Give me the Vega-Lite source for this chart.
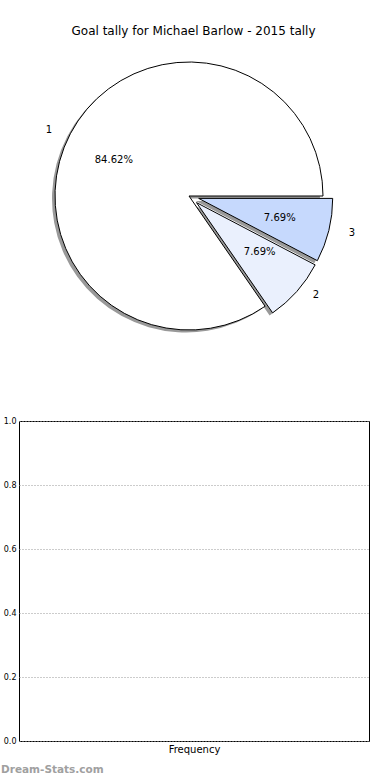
{
  "$schema": "https://vega.github.io/schema/vega-lite/v6.json",
  "padding": {"left": 0, "top": 25, "right": 0, "bottom": 0},
  "background": "white",
  "config": {"font": "DejaVu Sans", "view": {"stroke": null}, "concat": {"spacing": 74}},
  "datasets": {
    "tally": [
      {"slice": 1, "goals": 11, "pct": "84.62%"},
      {"slice": 2, "goals": 1, "pct": "7.69%"},
      {"slice": 3, "goals": 1, "pct": "7.69%"}
    ],
    "freq": []
  },
  "vconcat": [
    {
      "width": 340,
      "height": 292,
      "title": {"text": "Goal tally for Michael Barlow - 2015 tally", "fontSize": 12, "fontWeight": "normal", "font": "DejaVu Sans", "anchor": "middle", "frame": "group", "baseline": "alphabetic", "offset": 3, "dx": 4.5, "color": "#000000"},
      "data": {"name": "tally"},
      "encoding": {
        "theta": {"field": "goals", "type": "quantitative", "stack": true, "scale": {"range": [1.5708, 7.854]}},
        "order": {"field": "slice", "sort": "descending"},
        "detail": {"field": "slice", "type": "nominal"}
      },
      "layer": [
        {"mark": {"type": "arc", "radius": 134, "fill": "#999999", "xOffset": -3, "yOffset": 2.5},
         "encoding": {"opacity": {"condition": {"test": "datum.slice == 1", "value": 1}, "value": 0}}},
        {"mark": {"type": "arc", "radius": 134, "fill": "#999999", "xOffset": 4.5, "yOffset": 9.1},
         "encoding": {"opacity": {"condition": {"test": "datum.slice == 2", "value": 1}, "value": 0}}},
        {"mark": {"type": "arc", "radius": 134, "fill": "#999999", "xOffset": 6.7, "yOffset": 4.9},
         "encoding": {"opacity": {"condition": {"test": "datum.slice == 3", "value": 1}, "value": 0}}},
        {"mark": {"type": "arc", "radius": 134, "fill": "#ffffff", "stroke": "#000000", "strokeWidth": 1},
         "encoding": {"opacity": {"condition": {"test": "datum.slice == 1", "value": 1}, "value": 0}}},
        {"mark": {"type": "arc", "radius": 134, "fill": "#eaf0fd", "stroke": "#000000", "strokeWidth": 1, "xOffset": 7.5, "yOffset": 6.6},
         "encoding": {"opacity": {"condition": {"test": "datum.slice == 2", "value": 1}, "value": 0}}},
        {"mark": {"type": "arc", "radius": 134, "fill": "#c6d9fd", "stroke": "#000000", "strokeWidth": 1, "xOffset": 9.7, "yOffset": 2.4},
         "encoding": {"opacity": {"condition": {"test": "datum.slice == 3", "value": 1}, "value": 0}}},
        {"mark": {"type": "text", "radius": 80.4, "fontSize": 10, "color": "#000000", "align": "center", "baseline": "middle", "dx": -4, "dy": 1},
         "encoding": {"text": {"field": "pct"}, "opacity": {"condition": {"test": "datum.slice == 1", "value": 1}, "value": 0}}},
        {"mark": {"type": "text", "radius": 80.4, "fontSize": 10, "color": "#000000", "align": "center", "baseline": "middle", "dx": 10.5, "dy": 2.6},
         "encoding": {"text": {"field": "pct"}, "opacity": {"condition": {"test": "datum.slice == 2", "value": 1}, "value": 0}}},
        {"mark": {"type": "text", "radius": 80.4, "fontSize": 10, "color": "#000000", "align": "center", "baseline": "middle", "dx": 12.7, "dy": 2.4},
         "encoding": {"text": {"field": "pct"}, "opacity": {"condition": {"test": "datum.slice == 3", "value": 1}, "value": 0}}},
        {"mark": {"type": "text", "radius": 147.4, "fontSize": 10, "color": "#000000", "align": "center", "baseline": "middle", "dx": -9.6, "dy": 2.5},
         "encoding": {"text": {"field": "slice"}, "opacity": {"condition": {"test": "datum.slice == 1", "value": 1}, "value": 0}}},
        {"mark": {"type": "text", "radius": 147.4, "fontSize": 10, "color": "#000000", "align": "left", "baseline": "middle", "dx": 13.5, "dy": 1.6},
         "encoding": {"text": {"field": "slice"}, "opacity": {"condition": {"test": "datum.slice == 2", "value": 1}, "value": 0}}},
        {"mark": {"type": "text", "radius": 147.4, "fontSize": 10, "color": "#000000", "align": "left", "baseline": "middle", "dx": 16.7, "dy": 1.9},
         "encoding": {"text": {"field": "slice"}, "opacity": {"condition": {"test": "datum.slice == 3", "value": 1}, "value": 0}}}
      ]
    },
    {
      "width": 350,
      "height": 320,
      "data": {"name": "freq"},
      "view": {"stroke": "#000000", "strokeWidth": 1},
      "title": {"text": "Dream-Stats.com", "orient": "bottom", "anchor": "start", "frame": "group", "dx": -18, "offset": 11, "fontSize": 10.5, "fontWeight": "bold", "font": "DejaVu Sans", "color": "#a0a0a0"},
      "mark": "point",
      "encoding": {
        "x": {"field": "category", "type": "quantitative", "scale": {"domain": [0, 1]},
              "axis": {"labels": false, "ticks": false, "domain": false, "grid": false, "title": "Frequency", "titleFontSize": 10, "titleFontWeight": "normal", "titlePadding": 3, "titleColor": "#000000", "titleFont": "DejaVu Sans"}},
        "y": {"field": "frequency", "type": "quantitative", "scale": {"domain": [0, 1]},
              "axis": {"values": [0, 0.2, 0.4, 0.6, 0.8, 1.0], "format": ".1f", "labelFontSize": 8, "labelColor": "#000000", "labelFont": "DejaVu Sans", "ticks": false, "labelPadding": 3, "labelFlush": false, "domain": false, "grid": true, "gridColor": "#999999", "gridDash": [1, 2], "title": null}}
      }
    }
  ]
}
